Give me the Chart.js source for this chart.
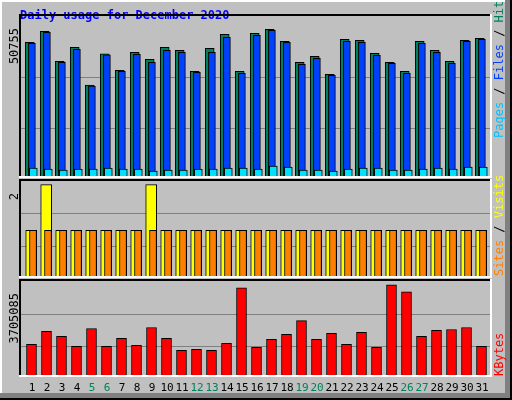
<!DOCTYPE html>
<html><head><meta charset="utf-8">
<script src="https://cdn.jsdelivr.net/npm/chart.js@4"></script>
<style>
html,body{margin:0;padding:0;background:#c0c0c0;}
#wrap{position:relative;width:512px;height:400px;}
canvas{position:absolute;left:0;top:0;}
</style></head><body>
<div id="wrap">
<canvas id="bg" width="512" height="400"></canvas>
</div>
<script>
const days = ['1','2','3','4','5','6','7','8','9','10','11','12','13','14','15','16','17','18','19','20','21','22','23','24','25','26','27','28','29','30','31'];
const weekend = ['5','6','12','13','19','20','26','27'];
const hits = [45850,49620,39350,44140,31140,41860,36270,42430,40030,44140,43110,35930,43800,48590,35930,48930,50300,46190,39010,41060,34900,46880,46530,42090,39010,35930,46190,43110,39350,46530,47220];
const files = [45510,49280,39010,43460,30800,41520,35930,41750,39000,43110,42430,35590,42430,47560,35250,48250,49960,45850,38330,40380,34560,46200,45850,41410,38670,35250,45510,42430,38670,46190,46880];
const pages = [2737,2395,2053,2395,2395,2737,2395,2395,1711,2053,2053,2395,2395,2737,2737,2395,3422,3080,2053,2053,1711,2395,2737,2737,2053,2053,2395,2737,2395,3080,3080];
const visits = [1,2,1,1,1,1,1,1,2,1,1,1,1,1,1,1,1,1,1,1,1,1,1,1,1,1,1,1,1,1,1];
const sites = [1,1,1,1,1,1,1,1,1,1,1,1,1,1,1,1,1,1,1,1,1,1,1,1,1,1,1,1,1,1,1];
const kbytes = [1253000,1778000,1576000,1172000,1900000,1172000,1495000,1213000,1940000,1495000,1010000,1051000,1010000,1293000,3557000,1132000,1455000,1657000,2223000,1455000,1698000,1253000,1738000,1132000,3678000,3395000,1576000,1819000,1859000,1940000,1172000];
const topMaxLabel = '50755', midMaxLabel = '2', botMaxLabel = '3705085';
const topGrid = [16560,34050], midGrid = [0.65,1.37], botGrid = [1171700,2505000];

const wrap = document.getElementById('wrap');
const MONO = '"DejaVu Sans Mono", "Liberation Mono", monospace';

// background
(function(){
  const c = document.getElementById('bg').getContext('2d');
  c.fillStyle = '#c0c0c0'; c.fillRect(0,0,512,400);
  c.fillStyle = '#ffffff'; c.fillRect(0,0,512,2); c.fillRect(0,0,2,400);
  c.fillStyle = '#808080'; c.fillRect(0,393,512,7); c.fillRect(505,0,7,400);
  c.fillStyle = '#000000'; c.fillRect(0,398,512,2); c.fillRect(510,0,2,400);
  c.font = 'bold 12px ' + MONO; c.fillStyle = '#0000ff'; c.textBaseline='alphabetic';
  c.fillText('Daily usage for December 2020', 20, 19);
  function vtext(parts, x, yBottom){
    c.save(); c.translate(x, yBottom); c.rotate(-Math.PI/2);
    c.font = '12px ' + MONO; c.textBaseline='middle';
    let px = 0;
    parts.forEach(p=>{ c.fillStyle=p[1]; c.fillText(p[0], px, 0); px += c.measureText(p[0]).width; });
    c.restore();
  }
  vtext([['Pages','#00c0ff'],[' / ','#000000'],['Files','#0040ff'],[' / ','#000000'],['Hits','#00805c']], 500, 138);
  vtext([['Sites','#ff8000'],[' / ','#000000'],['Visits','#ffff00']], 500, 276);
  vtext([['KBytes','#ff0000']], 500, 376);
})();

function panelPlugin(grid, maxLabel){
  return {
    id:'panel',
    beforeDatasetsDraw(chart){
      const c = chart.ctx, a = chart.chartArea, y = chart.scales.y;
      c.save();
      c.strokeStyle = '#808080'; c.lineWidth = 1;
      grid.forEach(v=>{ const py = Math.round(y.getPixelForValue(v))+0.5; c.beginPath(); c.moveTo(20,py); c.lineTo(490,py); c.stroke(); });
      c.fillStyle='#000'; c.fillRect(19,a.top-2,472,2); c.fillRect(19,a.top-2,2,a.bottom-a.top+3);
      c.fillStyle='#fff'; c.fillRect(490,a.top-2,2,a.bottom-a.top+3); c.fillRect(19,a.bottom,473,2);
      c.font = '12px ' + MONO; c.fillStyle='#000';
      c.translate(15, y.getPixelForValue(y.max) + 12); c.rotate(-Math.PI/2);
      c.textAlign='right'; c.textBaseline='middle';
      c.fillText(maxLabel, 0, 0);
      c.restore();
    }
  };
}
const xLabelPlugin = {
  id:'xlabels',
  afterDraw(chart){
    const c = chart.ctx, x = chart.scales.x;
    c.save(); c.font = '11px ' + MONO; c.textAlign='center'; c.textBaseline='middle';
    days.forEach((d,i)=>{ c.fillStyle = weekend.includes(d) ? '#00805c' : '#000000'; c.fillText(d, x.getPixelForValue(i)+0.5, 388); });
    c.restore();
  }
};

function make(data, color, yMax, top, bottom, shift, thick, plugins){
  const cv = document.createElement('canvas'); cv.width=512; cv.height=400; wrap.appendChild(cv);
  return new Chart(cv, {
    type:'bar',
    data:{labels:days, datasets:[{data, backgroundColor:color, borderColor:'#000', borderWidth:1, barThickness:thick, borderSkipped:'bottom'}]},
    options:{
      responsive:false, animation:false, devicePixelRatio:1,
      layout:{padding:{left:24+shift, right:23-shift, top, bottom}},
      plugins:{legend:{display:false}, tooltip:{enabled:false}},
      scales:{
        x:{display:false, offset:true},
        y:{display:false, min:0, max:yMax}
      }
    },
    plugins: plugins || []
  });
}
// top panel
make(hits, '#00805c', 54870, 16, 224, -1.8, 9, [panelPlugin(topGrid, topMaxLabel)]);
make(files, '#0040ff', 54870, 16, 224, 0.4, 7);
make(pages, '#00e0ff', 54870, 16, 224, 1.8, 8);
// middle panel
make(visits, '#ffff00', 2.08, 181, 124, -0.3, 11, [panelPlugin(midGrid, midMaxLabel)]);
make(sites, '#ff8000', 2.08, 181, 124, 1.5, 7);
// bottom panel
make(kbytes, '#ff0000', 3838000, 281, 25, 0, 10, [panelPlugin(botGrid, botMaxLabel), xLabelPlugin]);
</script>
</body></html>
